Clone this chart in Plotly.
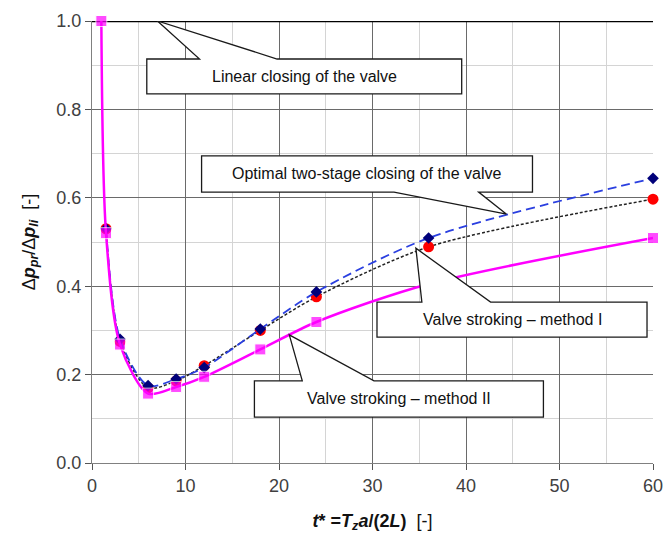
import plotly.graph_objects as go

# ---- data ----
t_linear = [0, 60]
dp_linear = [1.0, 1.0]

t_opt = [1.5, 3, 6, 9, 12, 18, 24, 36, 60]
dp_opt = [0.53, 0.28, 0.175, 0.19, 0.216, 0.303, 0.387, 0.509, 0.644]

t_m1 = [1.5, 3, 6, 9, 12, 18, 24, 36, 60]
dp_m1 = [0.53, 0.275, 0.17, 0.186, 0.22, 0.300, 0.376, 0.489, 0.597]

t_m2 = [1, 1.5, 3, 6, 9, 12, 18, 24, 36, 60]
dp_m2 = [1.0, 0.52, 0.268, 0.157, 0.172, 0.195, 0.257, 0.319, 0.405, 0.509]
m2_marked = [True, True, True, True, True, True, True, True, False, True]

x_ticks = [0, 10, 20, 30, 40, 50, 60]
y_ticks = [0.0, 0.2, 0.4, 0.6, 0.8, 1.0]

labels = ["Linear closing of the valve",
          "Optimal two-stage closing of the valve",
          "Valve stroking \u2013 method I",
          "Valve stroking \u2013 method II"]

fig = go.Figure()

fig.add_trace(go.Scatter(x=t_linear, y=dp_linear, mode="lines",
                         line=dict(color="black", width=2.5), showlegend=False,
                         cliponaxis=False))
fig.add_trace(go.Scatter(x=t_m1, y=dp_m1, mode="lines+markers",
                         line=dict(color="#222222", width=1.5, dash="3px,2px", shape="spline", smoothing=0.8),
                         marker=dict(symbol="circle", size=11, color="#ff0000"),
                         showlegend=False, cliponaxis=False))
fig.add_trace(go.Scatter(x=t_opt, y=dp_opt, mode="lines+markers",
                         line=dict(color="#2a3fe0", width=1.8, dash="9px,5px", shape="spline", smoothing=0.8),
                         marker=dict(symbol="diamond", size=9, color="#00007a"),
                         showlegend=False, cliponaxis=False))
fig.add_trace(go.Scatter(x=t_m2, y=dp_m2, mode="lines+markers",
                         line=dict(color="#ff00ff", width=2.5, shape="spline", smoothing=0.8),
                         marker=dict(symbol="square", size=[11 if m else 0 for m in m2_marked],
                                     color="#ff00ff"),
                         showlegend=False, cliponaxis=False))

# ---- callouts (box + tail) ----
def callout(x0, x1, y0, y1, b1, b2, ax, ay, side):
    # y0 bottom, y1 top
    if side == "top":
        p = (f"M{x0},{y1} L{b1},{y1} L{ax},{ay} L{b2},{y1} L{x1},{y1} "
             f"L{x1},{y0} L{x0},{y0} Z")
    else:
        p = (f"M{x0},{y1} L{x1},{y1} L{x1},{y0} L{b2},{y0} L{ax},{ay} "
             f"L{b1},{y0} L{x0},{y0} Z")
    return dict(type="path", path=p, xref="x", yref="y", fillcolor="white",
                line=dict(color="#1a1a1a", width=1.3), layer="above")

boxes = [
    (5.86, 39.54, 0.835, 0.914, 11.5, 19.8, 7.0, 1.0, "top"),
    (11.72, 47.11, 0.613, 0.695, 32.3, 41.35, 44.34, 0.563, "bottom"),
    (30.48, 59.36, 0.285, 0.364, 35.28, 42.63, 34.64, 0.486, "top"),
    (17.37, 48.28, 0.104, 0.186, 22.49, 30.16, 21.1, 0.290, "top"),
]
shapes = [callout(*b) for b in boxes]
annotations = []
for b, lab in zip(boxes, labels):
    annotations.append(dict(x=(b[0] + b[1]) / 2, y=(b[2] + b[3]) / 2, xref="x", yref="y",
                            text=lab, showarrow=False,
                            font=dict(family="Liberation Sans, Arial", size=16, color="#111111")))

fig.update_layout(
    width=663, height=538,
    margin=dict(l=92, r=10, t=21, b=75, autoexpand=False),
    paper_bgcolor="white", plot_bgcolor="white",
    shapes=shapes, annotations=annotations,
    font=dict(family="Liberation Sans, Arial", color="#404040"),
)
fig.update_xaxes(
    range=[0, 60], tickvals=x_ticks, ticks="outside", ticklen=6, tickcolor="#555555",
    showline=True, linecolor="#808080", linewidth=1,
    showgrid=True, gridcolor="#6a6a6a", gridwidth=1,
    minor=dict(dtick=5, showgrid=True, gridcolor="#d4d4d4", ticks=""),
    tickfont=dict(size=18, color="#404040"), zeroline=False,
    ticklabeloverflow="allow", automargin=False,
    title=dict(text="<b><i>t</i>* =<i>T</i><sub><i>z</i></sub><i>a</i>/(2<i>L</i>)</b>  [-]",
               font=dict(size=18, color="#111111"), standoff=19),
)
fig.update_yaxes(
    range=[0, 1.0], tickvals=y_ticks, tickformat=".1f", ticks="outside", ticklen=6, tickcolor="#555555",
    showline=True, linecolor="#808080", linewidth=1,
    showgrid=True, gridcolor="#6a6a6a", gridwidth=1,
    minor=dict(dtick=0.1, showgrid=True, gridcolor="#d4d4d4", ticks=""),
    tickfont=dict(size=18, color="#404040"), zeroline=False,
    ticklabeloverflow="allow", automargin=False,
    title=dict(text="\u0394<b><i>p</i><sub><i>pr</i></sub></b>/\u0394<b><i>p</i><sub><i>li</i></sub></b>  [-]",
               font=dict(size=18, color="#111111"), standoff=16),
)

fig.write_html("out.html")
